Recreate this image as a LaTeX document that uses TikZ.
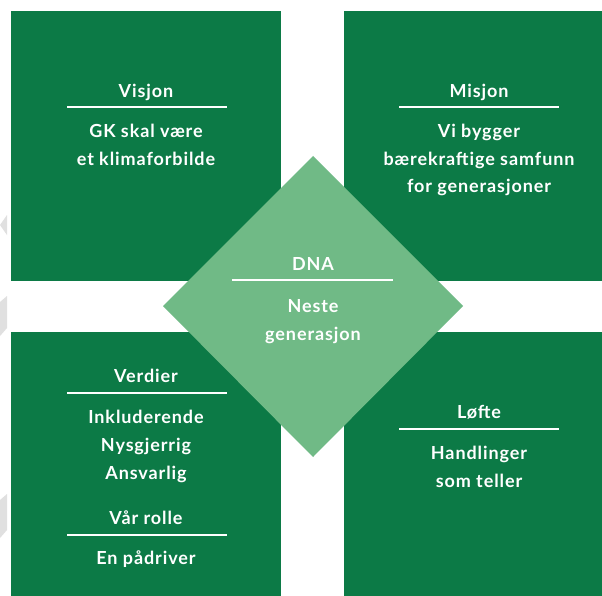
\documentclass[tikz,border=0pt]{standalone}
\usepackage{fontspec}
\setmainfont{Lato}[LetterSpace=5]
\definecolor{dkgreen}{RGB}{12,122,70}
\definecolor{ltgreen}{RGB}{112,186,134}
\definecolor{ghost}{RGB}{224,224,224}
\begin{document}
\begin{tikzpicture}[x=1pt,y=-1pt,
  txt/.style={anchor=base,text=white,font=\bfseries\fontsize{18}{21}\selectfont,inner sep=0pt},
  rule/.style={draw=white,line width=1.5pt}]
\useasboundingbox (0,0) rectangle (602,596);
\begin{scope}
\clip (0,0) rectangle (602,596);
\fill[white] (0,0) rectangle (602,596);
% faint grey chevrons at the left edge
\fill[ghost] (7,215) -- (0,225) -- (7,235) -- cycle;
\fill[ghost] (7,296) -- (0,302) -- (0,336) -- (7,328) -- cycle;
\fill[ghost] (7,494) -- (0,500) -- (0,538) -- (7,530) -- cycle;
% squares
\fill[dkgreen] (11,11) rectangle (281,281);
\fill[dkgreen] (344,11) rectangle (614,281);
\fill[dkgreen] (11,332) rectangle (281,602);
\fill[dkgreen] (344,332) rectangle (614,602);
% diamond
\fill[ltgreen] (313,156) -- (463,306) -- (313,457) -- (163,306) -- cycle;
\end{scope}
% Visjon
\node[txt] (v1) at (146,98) {Visjon};
\coordinate (v1l) at (67,107); \coordinate (v1r) at (227,107);
\draw[rule] (v1l) -- (v1r);
\node[txt] (v2) at (146,138) {GK skal være};
\node[txt] (v3) at (146,166) {et klimaforbilde};
% Misjon
\node[txt] (m1) at (479,98) {Misjon};
\coordinate (m1l) at (399,107); \coordinate (m1r) at (559,107);
\draw[rule] (m1l) -- (m1r);
\node[txt] (m2) at (479,138) {Vi bygger};
\node[txt] (m3) at (479,166) {bærekraftige samfunn};
\node[txt] (m4) at (479,193) {for generasjoner};
% DNA
\node[txt] (d1) at (313,270) {DNA};
\coordinate (d1l) at (232,280); \coordinate (d1r) at (393,280);
\draw[rule] (d1l) -- (d1r);
\node[txt] (d2) at (313,312) {Neste};
\node[txt] (d3) at (313,340) {generasjon};
% Verdier
\node[txt] (w1) at (146,382) {Verdier};
\coordinate (w1l) at (67,393); \coordinate (w1r) at (227,393);
\draw[rule] (w1l) -- (w1r);
\node[txt] (w2) at (146,423) {Inkluderende};
\node[txt] (w3) at (146,451) {Nysgjerrig};
\node[txt] (w4) at (146,479) {Ansvarlig};
\node[txt] (r1) at (146,524) {Vår rolle};
\coordinate (r1l) at (67,535); \coordinate (r1r) at (227,535);
\draw[rule] (r1l) -- (r1r);
\node[txt] (r2) at (146,564) {En pådriver};
% Løfte
\node[txt] (l1) at (479,418) {Løfte};
\coordinate (l1l) at (399,429); \coordinate (l1r) at (559,429);
\draw[rule] (l1l) -- (l1r);
\node[txt] (l2) at (479,459) {Handlinger};
\node[txt] (l3) at (479,487) {som teller};
\end{tikzpicture}
\end{document}
